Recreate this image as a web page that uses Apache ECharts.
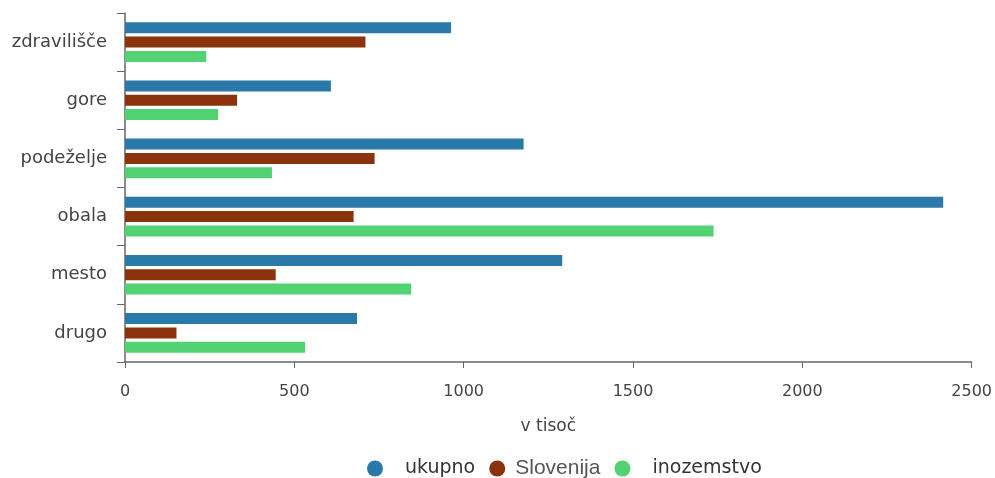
<!DOCTYPE html>
<html>
<head>
<meta charset="utf-8">
<script src="https://cdn.jsdelivr.net/npm/echarts@6/dist/echarts.min.js"></script>
<style>
  html, body { margin: 0; padding: 0; background: #fff; }
  #chart { width: 995px; height: 478px; }
</style>
</head>
<body>
<div id="chart"></div>
<script>
// kategorije od zgoraj navzdol
const categories = ['zdravilišče', 'gore', 'podeželje', 'obala', 'mesto', 'drugo'];
// vrednosti v tisoč
const ukupno = [963, 608, 1177, 2416, 1291, 685];
const slovenija = [710, 331, 737, 675, 445, 152];
const inozemstvo = [240, 275, 434, 1738, 845, 532];

const axisColor = '#666';
const font = 'DejaVu Sans';
const myChart = echarts.init(document.getElementById('chart'));
const option = {
  animation: false,
  textStyle: { fontFamily: font },
  grid: { left: 125, right: 22, top: 13, bottom: 116 },
  legend: {
    top: 453,
    left: 362,
    icon: 'circle',
    itemWidth: 16,
    itemHeight: 16,
    itemGap: 14,
    data: ['ukupno', 'Slovenija', 'inozemstvo'],
    // Slovenija je v izvirniku v večji, ožji pisavi
    formatter: (name) => name === 'Slovenija' ? `{b|${name}}` : `{a|${name}}`,
    textStyle: {
      color: '#333',
      rich: {
        a: { fontSize: 19, fontFamily: font, color: '#333', padding: [0, 0, 0, 17] },
        b: { fontSize: 21, fontFamily: 'Liberation Sans', color: '#555', padding: [0, 5, 0, 5] }
      }
    }
  },
  xAxis: {
    type: 'value',
    min: 0,
    max: 2500,
    interval: 500,
    name: 'v tisoč',
    nameLocation: 'middle',
    nameGap: 56,
    nameTextStyle: { fontSize: 17, color: '#444', fontFamily: font },
    axisLine: { show: true, lineStyle: { color: axisColor, width: 1.5 } },
    axisTick: { show: true, length: 6, lineStyle: { color: axisColor } },
    axisLabel: { fontSize: 16, color: '#444', margin: 22, formatter: (v) => String(v) },
    splitLine: { show: false }
  },
  yAxis: {
    type: 'category',
    inverse: true,
    data: categories,
    axisLine: { show: true, lineStyle: { color: axisColor, width: 1.5 } },
    axisTick: { show: true, length: 8, lineStyle: { color: axisColor } },
    axisLabel: { fontSize: 18, color: '#444', margin: 18 }
  },
  series: [
    { name: 'ukupno', type: 'bar', data: ukupno, itemStyle: { color: '#2a79a8' }, barWidth: 11, barGap: '30%' },
    { name: 'Slovenija', type: 'bar', data: slovenija, itemStyle: { color: '#8a330c' }, barWidth: 11, barGap: '30%' },
    { name: 'inozemstvo', type: 'bar', data: inozemstvo, itemStyle: { color: '#52d273' }, barWidth: 11, barGap: '30%' }
  ]
};
myChart.setOption(option, true);
</script>
</body>
</html>
